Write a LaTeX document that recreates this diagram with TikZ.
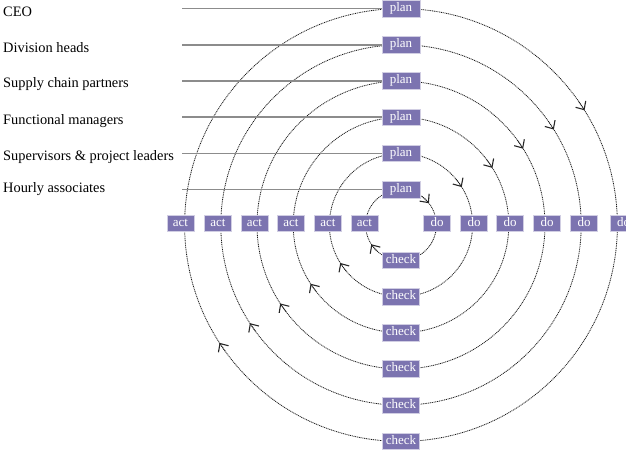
\documentclass[tikz,border=0pt]{standalone}
\usepackage{fontspec}
\setmainfont{Liberation Serif}
\usetikzlibrary{arrows.meta}
\definecolor{boxpurple}{RGB}{124,116,176}
\definecolor{lineg}{RGB}{140,140,140}
\begin{document}
\begin{tikzpicture}[x=1pt,y=1pt,
  box/.style={fill=boxpurple, draw=boxpurple!35, line width=0.6pt, text=white,
    font=\fontsize{13}{14}\selectfont, inner sep=0pt, minimum height=16.5pt,
    text height=8.4pt, text depth=2.8pt},
  planbox/.style={box, minimum width=38pt},
  checkbox/.style={box, minimum width=37pt},
  actbox/.style={box, minimum width=27pt},
  dobox/.style={box, minimum width=27pt},
  ring/.style={draw=black!90, line width=0.8pt, dash pattern=on 1pt off 0.8pt},
  flow/.style={ring, -{Straight Barb[length=6.5pt,width=12pt,line width=1.1pt,color=black!85]}},
  level/.style={font=\fontsize{14.4}{16}\selectfont, anchor=base west, inner sep=0pt},
  guide/.style={draw=lineg, line width=1.6pt}]
\useasboundingbox (0,0) rectangle (626,451);
\coordinate (C) at (401,226);
% rings
\foreach \r in {35.4,71.6,107.8,144,180.2,216.4}
  \draw[ring] (C) circle[radius=\r];
% direction arrows
\begin{scope}[shift={(401,226)}]
\foreach \r/\a in {35.4/38,71.6/32,107.8/32,144/32,180.2/32,216.4/32}{
  \pgfmathsetmacro\s{10/\r*57.3}
  \pgfmathsetmacro\b{\a+\s}
  \draw[flow] (\b:\r) arc[start angle=\b, end angle=\a, radius=\r];
}
\foreach \r/\a in {35.4/213,71.6/212,107.8/213,144/213,180.2/213,216.4/213}{
  \pgfmathsetmacro\s{10/\r*57.3}
  \pgfmathsetmacro\b{\a+\s}
  \draw[flow] (\b:\r) arc[start angle=\b, end angle=\a, radius=\r];
}
\end{scope}
% plan boxes
\node[planbox] (p1) at (401,261.4) {plan};
\node[planbox] (p2) at (401,297.6) {plan};
\node[planbox] (p3) at (401,333.8) {plan};
\node[planbox] (p4) at (401,370) {plan};
\node[planbox] (p5) at (401,406.2) {plan};
\node[planbox] (p6) at (401,442.4) {plan};
% check boxes
\node[checkbox] (k1) at (401,190.6) {check};
\node[checkbox] (k2) at (401,154.4) {check};
\node[checkbox] (k3) at (401,118.2) {check};
\node[checkbox] (k4) at (401,82) {check};
\node[checkbox] (k5) at (401,45.8) {check};
\node[checkbox] (k6) at (401,9.6) {check};
% act boxes
\node[actbox] (a1) at (364.5,227.5) {act};
\node[actbox] (a2) at (328,227.5) {act};
\node[actbox] (a3) at (291,227.5) {act};
\node[actbox] (a4) at (254.5,227.5) {act};
\node[actbox] (a5) at (218,227.5) {act};
\node[actbox] (a6) at (180.5,227.5) {act};
% do boxes
\node[dobox] (d1) at (437,227.5) {do};
\node[dobox] (d2) at (474,227.5) {do};
\node[dobox] (d3) at (510,227.5) {do};
\node[dobox] (d4) at (547,227.5) {do};
\node[dobox] (d5) at (584,227.5) {do};
\node[dobox] (d6) at (623.5,227.5) {do};
% level labels
\node[level] (l6) at (3,434.6) {CEO};
\node[level] (l5) at (3,398.6) {Division heads};
\node[level] (l4) at (3,363) {Supply chain partners};
\node[level] (l3) at (3,327) {Functional managers};
\node[level] (l2) at (3,291) {Supervisors \& project leaders};
\node[level] (l1) at (3,259) {Hourly associates};
% guide lines
\coordinate (g1) at (182,261.4);
\coordinate (g2) at (182,297.6);
\coordinate (g3) at (182,333.8);
\coordinate (g4) at (182,370);
\coordinate (g5) at (182,406.2);
\coordinate (g6) at (182,442.4);
\foreach \i in {1,...,6}
  \draw[guide] (g\i) -- (p\i.west);
\end{tikzpicture}
\end{document}
